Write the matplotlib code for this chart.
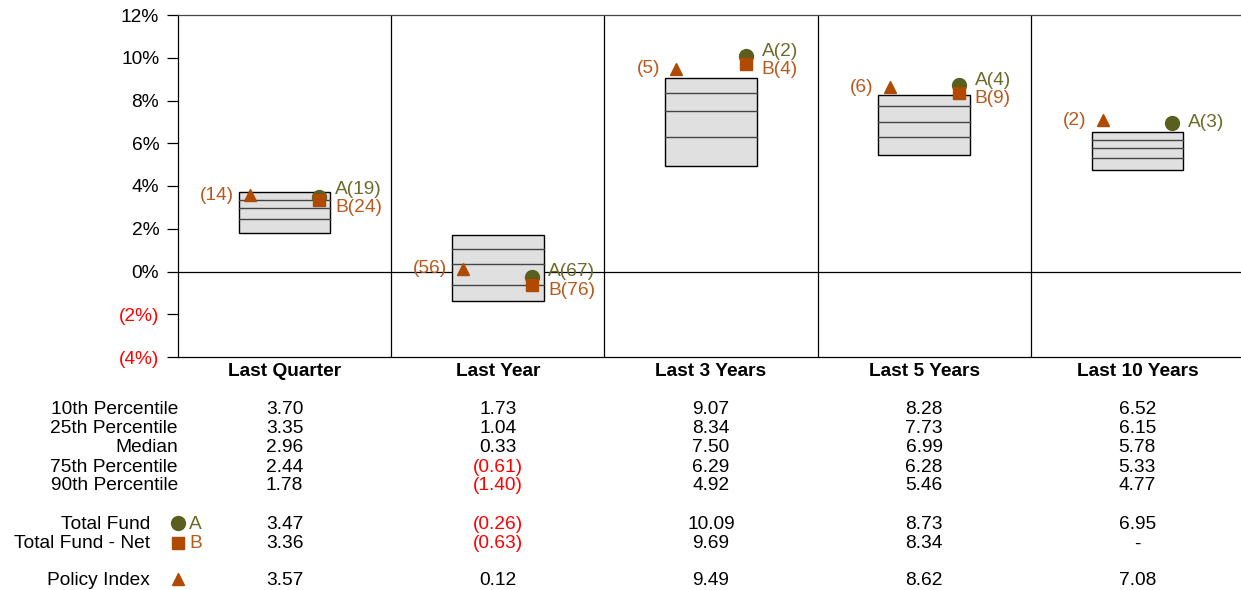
import numpy as np
import matplotlib.pyplot as plt
import matplotlib.transforms as mtransforms

plt.rcParams['font.family'] = ['Liberation Sans', 'DejaVu Sans']

# Data
periods = ['Last Quarter', 'Last Year', 'Last 3 Years', 'Last 5 Years', 'Last 10 Years']
p10 = [3.70, 1.73, 9.07, 8.28, 6.52]
p25 = [3.35, 1.04, 8.34, 7.73, 6.15]
median = [2.96, 0.33, 7.50, 6.99, 5.78]
p75 = [2.44, -0.61, 6.29, 6.28, 5.33]
p90 = [1.78, -1.40, 4.92, 5.46, 4.77]
fund_a = [3.47, -0.26, 10.09, 8.73, 6.95]
fund_b = [3.36, -0.63, 9.69, 8.34, None]
policy = [3.57, 0.12, 9.49, 8.62, 7.08]
rank_a = [19, 67, 2, 4, 3]
rank_b = [24, 76, 4, 9, None]
rank_p = [14, 56, 5, 6, 2]

olive = '#5A5E1E'
olive_txt = '#6B6B2A'
rust = '#B04A00'
rust_txt = '#B85A1E'
red = '#FF0000'
fs = 13.8

W, H = 1241, 590
fig = plt.figure(figsize=(W / 100, H / 100), dpi=100)
ax = fig.add_axes([178 / W, 1 - 357 / H, (1244 - 178) / W, 342 / H])

n = len(periods)
ax.set_xlim(0, n)
ax.set_ylim(-4, 12)

# Frame lines
for s in ['right', 'bottom']:
    ax.spines[s].set_visible(False)
ax.spines['left'].set_linewidth(0.9)
ax.spines['top'].set_linewidth(0.9)
ax.spines['top'].set_color('#444444')
ax.axhline(-4, color='black', lw=0.9, clip_on=False)
ax.axhline(0, color='black', lw=0.9)
for i in range(1, n):
    ax.axvline(i, color='black', lw=0.9)

ax.set_xticks([])
yt = np.arange(-4, 13, 2)
ax.set_yticks(yt)
ax.set_yticklabels([f'({abs(v)}%)' if v < 0 else f'{v}%' for v in yt], fontsize=fs)
for lab, v in zip(ax.get_yticklabels(), yt):
    if v < 0:
        lab.set_color(red)
ax.tick_params(axis='y', length=8, width=0.9, pad=5.5)

bw = 0.43
for i in range(n):
    c = i + 0.5
    ax.add_patch(plt.Rectangle((c - bw / 2, p90[i]), bw, p10[i] - p90[i],
                               facecolor='#E0E0E0', edgecolor='black', lw=1.0, zorder=2))
    for v in (p25[i], median[i], p75[i]):
        ax.plot([c - bw / 2, c + bw / 2], [v, v], color='#444444', lw=1.0, zorder=3)

    xa = c + 0.162
    xp = c - 0.162
    ax.plot(xp, policy[i], marker='^', color=rust, ms=9, zorder=5, ls='none')
    ax.annotate(f'({rank_p[i]})', (xp, policy[i]), xytext=(-11.5, 0), textcoords='offset points',
                ha='right', va='center', color=rust_txt, fontsize=fs)
    ax.plot(xa, fund_a[i], marker='o', color=olive, ms=10, zorder=5, ls='none')
    if fund_b[i] is not None:
        ax.plot(xa, fund_b[i], marker='s', color=rust, ms=9, zorder=6, ls='none')
        mid = (fund_a[i] + fund_b[i]) / 2
        ax.annotate(f'A({rank_a[i]})', (xa, mid), xytext=(11.5, 6.5), textcoords='offset points',
                    ha='left', va='center', color=olive_txt, fontsize=fs)
        ax.annotate(f'B({rank_b[i]})', (xa, mid), xytext=(11.5, -6.5), textcoords='offset points',
                    ha='left', va='center', color=rust_txt, fontsize=fs)
    else:
        ax.annotate(f'A({rank_a[i]})', (xa, fund_a[i]), xytext=(11.5, 0), textcoords='offset points',
                    ha='left', va='center', color=olive_txt, fontsize=fs)

# Table below
tr = mtransforms.blended_transform_factory(ax.transData, fig.transFigure)


def fy(py):
    return 1 - py / H


def fmt(v):
    if v is None:
        return '-', 'black'
    if v < 0:
        return f'({abs(v):.2f})', red
    return f'{v:.2f}', 'black'


for i, p in enumerate(periods):
    ax.text(i + 0.5, fy(371), p, transform=tr, ha='center', va='center',
            fontsize=fs, fontweight='bold')

rows = [
    ('10th Percentile', p10, 409.5, None),
    ('25th Percentile', p25, 428.5, None),
    ('Median', median, 447.5, None),
    ('75th Percentile', p75, 467, None),
    ('90th Percentile', p90, 486, None),
    ('Total Fund', fund_a, 524.5, 'A'),
    ('Total Fund - Net', fund_b, 544, 'B'),
    ('Policy Index', policy, 580.5, 'P'),
]

for label, vals, py, key in rows:
    if key is None:
        fig.text(178 / W, fy(py), label, ha='right', va='center', fontsize=fs)
    else:
        fig.text(150 / W, fy(py), label, ha='right', va='center', fontsize=fs)
        my = fy(py - 1.5)
        if key == 'A':
            fig.lines.append(plt.Line2D([178 / W], [my], marker='o', color=olive, ms=10,
                                        transform=fig.transFigure))
            fig.text(189 / W, fy(py), 'A', ha='left', va='center', fontsize=fs, color=olive_txt)
        elif key == 'B':
            fig.lines.append(plt.Line2D([178 / W], [my], marker='s', color=rust, ms=9,
                                        transform=fig.transFigure))
            fig.text(189 / W, fy(py), 'B', ha='left', va='center', fontsize=fs, color=rust_txt)
        else:
            fig.lines.append(plt.Line2D([178 / W], [my], marker='^', color=rust, ms=9,
                                        transform=fig.transFigure))
    for i, v in enumerate(vals):
        s, col = fmt(v)
        ax.text(i + 0.5, fy(py), s, transform=tr, ha='center', va='center',
                fontsize=fs, color=col)

fig.savefig('out.png', dpi=100)
